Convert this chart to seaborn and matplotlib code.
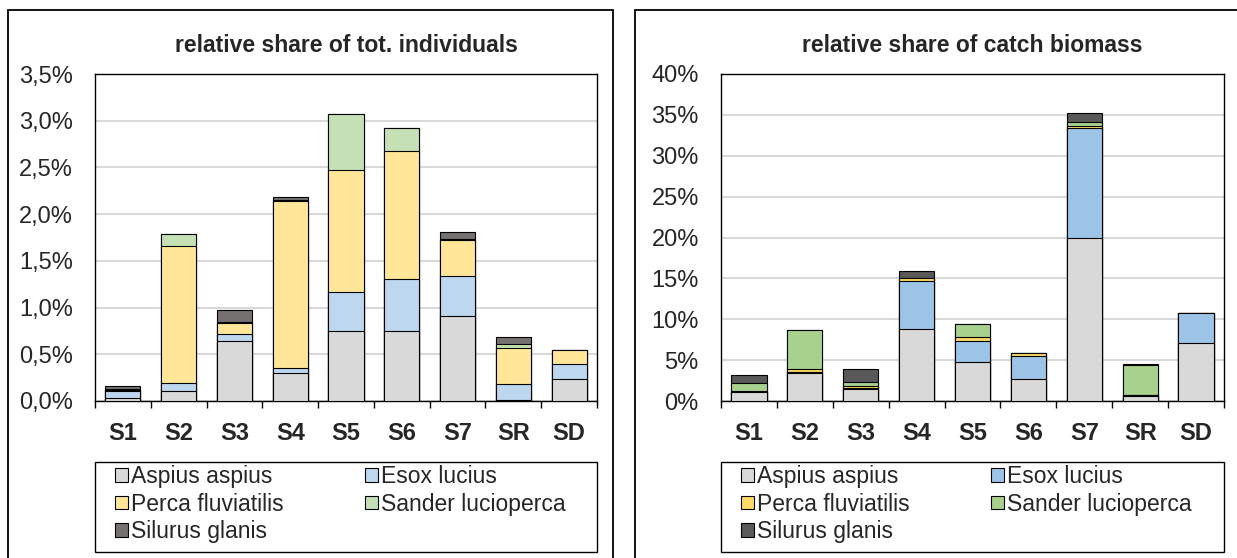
import numpy as np
import pandas as pd
import seaborn as sns
import matplotlib
matplotlib.use("Agg")
import matplotlib.pyplot as plt
from matplotlib.patches import Rectangle, Patch
from matplotlib.ticker import FuncFormatter, FixedLocator, NullFormatter

sns.set_style("white")
plt.rcParams["font.family"] = ["Liberation Sans", "DejaVu Sans"]

sites = ["S1", "S2", "S3", "S4", "S5", "S6", "S7", "SR", "SD"]
species = ["Aspius aspius", "Esox lucius", "Perca fluviatilis",
           "Sander lucioperca", "Silurus glanis"]

# relative share of total individuals (%)
ind_aspius = [0.035, 0.104, 0.640, 0.300, 0.754, 0.754, 0.911, 0.012, 0.236]
ind_esox = [0.075, 0.093, 0.075, 0.058, 0.408, 0.550, 0.429, 0.170, 0.157]
ind_perca = [0.010, 1.460, 0.125, 1.786, 1.314, 1.376, 0.379, 0.386, 0.154]
ind_sander = [0.010, 0.133, 0.010, 0.010, 0.597, 0.243, 0.020, 0.040, 0.000]
ind_silurus = [0.030, 0.000, 0.120, 0.030, 0.000, 0.000, 0.070, 0.075, 0.000]

# relative share of catch biomass (%)
bio_aspius = [1.10, 3.47, 1.43, 8.78, 4.78, 2.66, 20.00, 0.58, 7.10]
bio_esox = [0.05, 0.12, 0.20, 5.92, 2.57, 2.81, 13.35, 0.15, 3.64]
bio_perca = [0.02, 0.30, 0.15, 0.30, 0.49, 0.41, 0.35, 0.05, 0.00]
bio_sander = [1.05, 4.85, 0.50, 0.00, 1.55, 0.00, 0.40, 3.60, 0.00]
bio_silurus = [0.98, 0.00, 1.60, 0.90, 0.00, 0.00, 1.10, 0.10, 0.05]

ind_colors = ["#D9D9D9", "#BDD7EE", "#FFE699", "#C5E0B4", "#767171"]
bio_colors = ["#D9D9D9", "#9DC3E6", "#FFD966", "#A9D18E", "#595959"]

TICK_FS = 17
LEG_FS = 16.5
TITLE_FS = 16.5

W, H = 1237, 558
fig = plt.figure(figsize=(W / 100, H / 100), dpi=100)


def fx(x):
    return x / W


def fy(y):
    return 1 - y / H


def fig_rect(x0, y0, x1, y1):
    """pixel box (top-left origin) -> figure fraction [l, b, w, h]"""
    return [fx(x0), fy(y1), (x1 - x0) / W, (y1 - y0) / H]


# chart area frames
for x0, x1 in [(8, 613), (635, 1245)]:
    fig.patches.append(Rectangle((fx(x0), -0.05), (x1 - x0) / W, fy(10) + 0.05,
                                 transform=fig.transFigure, fill=False,
                                 edgecolor="black", linewidth=1.3, zorder=0))


def stacked(ax, layers, colors, ymax, step, fmt):
    df = pd.DataFrame(dict(zip(species, layers)), index=sites)
    cum = df.cumsum(axis=1)
    # draw cumulative totals from the top layer down so lower layers overlay
    for sp, col in zip(reversed(species), reversed(colors)):
        sns.barplot(x=sites, y=cum[sp].values, color=col, saturation=1,
                    width=0.63, edgecolor="black", linewidth=0.8, ax=ax,
                    zorder=3)
    ax.set_xlim(-0.5, len(sites) - 0.5)
    ax.set_ylim(0, ymax)
    ax.set_yticks(np.arange(0, ymax + step / 2, step))
    ax.yaxis.set_major_formatter(FuncFormatter(fmt))
    ax.grid(axis="y", color="#D9D9D9", linewidth=1.5, zorder=0)
    ax.set_axisbelow(True)
    for s in ax.spines.values():
        s.set_color("black")
        s.set_linewidth(1.0)
    ax.tick_params(axis="y", length=0, pad=16, labelsize=TICK_FS)
    ax.tick_params(axis="x", which="major", length=0, pad=15, labelsize=TICK_FS)
    for lab in ax.get_xticklabels():
        lab.set_fontweight("bold")
    ax.xaxis.set_minor_locator(FixedLocator(np.arange(-0.5, len(sites), 1.0)))
    ax.xaxis.set_minor_formatter(NullFormatter())
    ax.tick_params(axis="x", which="minor", length=5, width=1.0,
                   direction="out", color="black", bottom=True)
    ax.set_xlabel("")
    ax.set_ylabel("")


panels = [
    (fig_rect(95, 74, 597, 401),
     [ind_aspius, ind_esox, ind_perca, ind_sander, ind_silurus], ind_colors,
     3.5, 0.5, lambda v, p: f"{v:.1f}%".replace(".", ","),
     "relative share of tot. individuals"),
    (fig_rect(721, 74, 1224, 401),
     [bio_aspius, bio_esox, bio_perca, bio_sander, bio_silurus], bio_colors,
     40, 5, lambda v, p: f"{v:.0f}%",
     "relative share of catch biomass"),
]

for rect, layers, colors, ymax, step, fmt, title in panels:
    ax = fig.add_axes(rect)
    stacked(ax, layers, colors, ymax, step, fmt)
    left_px = rect[0] * W
    right_px = (rect[0] + rect[2]) * W
    fig.text(fx((left_px + right_px) / 2), fy(46), title,
             ha="center", va="center", fontsize=TITLE_FS, fontweight="bold")

    # legend frame spans the plot width
    fig.patches.append(Rectangle((fx(left_px), fy(552)), (right_px - left_px) / W,
                                 (552 - 462) / H, transform=fig.transFigure,
                                 fill=False, edgecolor="black", linewidth=1.0))
    # two legend columns, entries read row by row
    for idx, offset in [([0, 2, 4], 20), ([1, 3], 270)]:
        handles = [Patch(facecolor=colors[i], edgecolor="black", linewidth=0.8,
                         label=species[i]) for i in idx]
        fig.legend(handles=handles, ncol=1, loc="upper left",
                   bbox_to_anchor=(fx(left_px + offset), fy(465)),
                   fontsize=LEG_FS, frameon=False,
                   handlelength=0.55, handleheight=0.55, handletextpad=0.15,
                   labelspacing=0.2, borderpad=0, borderaxespad=0)

fig.savefig("out.png", dpi=100)
